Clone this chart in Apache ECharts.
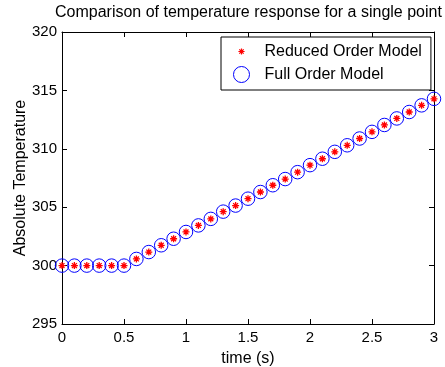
<!DOCTYPE html>
<html><head><meta charset="utf-8">
<script src="https://cdn.jsdelivr.net/npm/echarts@6/dist/echarts.min.js"></script>
<style>html,body{margin:0;padding:0;background:#fff}#c{width:445px;height:367px}</style>
</head><body><div id="c"></div>
<script>
const times = [0,0.1,0.2,0.3,0.4,0.5,0.6,0.7,0.8,0.9,1.0,1.1,1.2,1.3,1.4,1.5,1.6,1.7,1.8,1.9,2.0,2.1,2.2,2.3,2.4,2.5,2.6,2.7,2.8,2.9,3.0];
const reducedOrder = [300,300,300,300,300,300,300.57,301.16,301.74,302.3,302.88,303.44,304.0,304.62,305.14,305.73,306.3,306.88,307.41,308.0,308.6,309.15,309.74,310.3,310.88,311.45,312.04,312.6,313.15,313.72,314.28];
const fullOrder = [300,300,300,300,300,300,300.57,301.16,301.74,302.3,302.88,303.44,304.0,304.62,305.14,305.73,306.3,306.88,307.41,308.0,308.6,309.15,309.74,310.3,310.88,311.45,312.04,312.6,313.15,313.72,314.28];
const xTicks = [0,0.5,1,1.5,2,2.5,3];
const yTicks = [295,300,305,310,315,320];

const font = 'Liberation Sans, Arial, sans-serif';
const star = 'path://M0,5L10,5M5,0L5,10M1.5,1.5L8.5,8.5M8.5,1.5L1.5,8.5';
const starLegend = 'path://M-8,-8M18,18M0,5L10,5M5,0L5,10M1.5,1.5L8.5,8.5M8.5,1.5L1.5,8.5';
const chart = echarts.init(document.getElementById('c'), null, {renderer:'canvas'});
const axCommon = {
  axisLine:{show:true,onZero:false,lineStyle:{color:'#000',width:1}},
  axisTick:{show:true,inside:true,length:5,lineStyle:{color:'#000'}},
  splitLine:{show:false}
};
chart.setOption({
  animation:false,
  title:{text:'Comparison of temperature response for a single point',left:50,top:0,
    textStyle:{fontFamily:font,fontSize:16,fontWeight:'normal',color:'#000'}},
  grid:{left:62,right:11,top:32,bottom:43,containLabel:false,outerBoundsMode:'none'},
  legend:{orient:'vertical',left:221,top:37,
    backgroundColor:'#fff',borderColor:'#000',borderWidth:1,padding:[4,9,5,10],itemGap:2,
    itemWidth:24,itemHeight:16,
    textStyle:{fontFamily:font,fontSize:16,color:'#000',padding:[0,0,0,6]},
    data:[
      {name:'Reduced Order Model',icon:starLegend,itemStyle:{color:'none',borderColor:'#ff0000',borderWidth:1.2}},
      {name:'Full Order Model',icon:'circle',itemStyle:{color:'none',borderColor:'#0000ff',borderWidth:1}}
    ]},
  xAxis:[
    Object.assign({type:'value',min:0,max:3,interval:0.5,position:'bottom',
      name:'time (s)',nameLocation:'middle',nameGap:27,nameMoveOverlap:false,
      nameTextStyle:{fontFamily:font,fontSize:16,color:'#000'},
      axisLabel:{fontFamily:font,fontSize:15,color:'#000',margin:6,
        formatter:v=>xTicks.includes(v)?String(v):''}},axCommon),
    Object.assign({type:'value',min:0,max:3,interval:0.5,position:'top',axisLabel:{show:false}},axCommon)
  ],
  yAxis:[
    Object.assign({type:'value',min:295,max:320,interval:5,position:'left',
      name:'Absolute Temperature',nameLocation:'middle',nameGap:33,nameMoveOverlap:false,
      nameTextStyle:{fontFamily:font,fontSize:16,color:'#000'},
      axisLabel:{fontFamily:font,fontSize:15,color:'#000',margin:5,
        formatter:v=>yTicks.includes(v)?String(v):''}},axCommon),
    Object.assign({type:'value',min:295,max:320,interval:5,position:'right',axisLabel:{show:false}},axCommon)
  ],
  series:[
    {name:'Full Order Model',type:'scatter',symbol:'circle',symbolSize:13.5,z:2,
      itemStyle:{color:'none',borderColor:'#0000ff',borderWidth:1,opacity:1},
      data:times.map((t,i)=>[t,fullOrder[i]])},
    {name:'Reduced Order Model',type:'scatter',symbol:star,symbolSize:7,z:3,
      itemStyle:{color:'none',borderColor:'#ff0000',borderWidth:1.3,opacity:1},
      data:times.map((t,i)=>[t,reducedOrder[i]])}
  ]
});
</script></body></html>
